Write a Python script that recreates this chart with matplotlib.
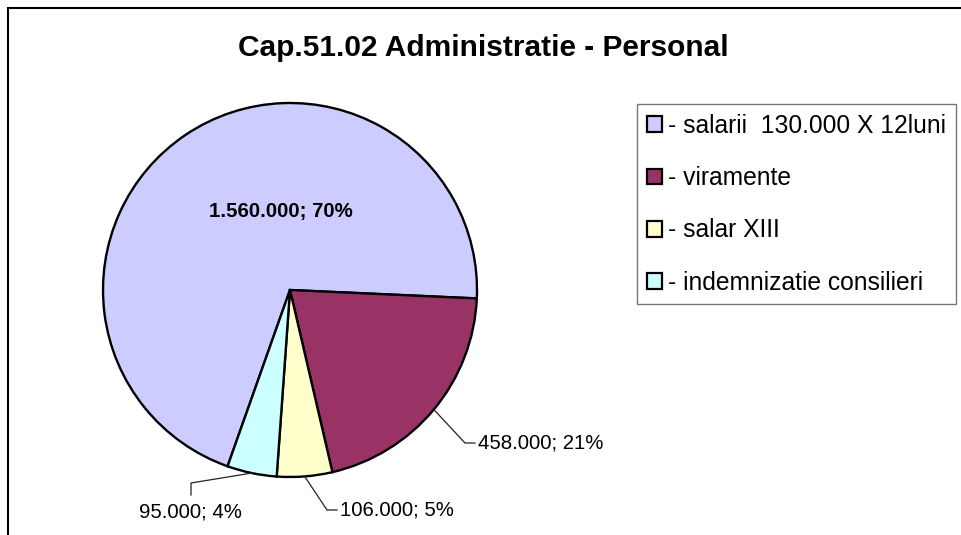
import matplotlib
matplotlib.use("Agg")
import matplotlib.pyplot as plt
from matplotlib.patches import Rectangle, Patch
import numpy as np

plt.rcParams['font.family'] = ['Liberation Sans', 'DejaVu Sans']

title = "Cap.51.02 Administratie - Personal"
categories = ["- salarii  130.000 X 12luni", "- viramente", "- salar XIII", "- indemnizatie consilieri"]
values = [1560000, 458000, 106000, 95000]
colors = ["#CCCCFF", "#993366", "#FFFFCC", "#CCFFFF"]

W, H = 961, 535
fig = plt.figure(figsize=(W / 100, H / 100), dpi=100)
ax = fig.add_axes([0, 0, 1, 1])

cx, cy, R = 290, H - 290, 187
wedges, _ = ax.pie(values, colors=colors, startangle=250.5, counterclock=False,
                   center=(cx, cy), radius=R, frame=True,
                   wedgeprops=dict(edgecolor='black', linewidth=1.7))
ax.set_xlim(0, W)
ax.set_ylim(0, H)
ax.set_aspect('equal')
ax.axis('off')

total = sum(values)

def fmt(v):
    return f"{v:,}".replace(",", ".")

def lab(v):
    return f"{fmt(v)}; {round(100 * v / total)}%"

# first slice: bold label inside
ax.text(281, H - 212, lab(values[0]), ha='center', va='center', fontsize=14.7, fontweight='bold')

# leader label layout (pixel positions)
leader = {
    1: dict(elbow=(465, 443), end=(475, 443), text=(478, 443), ha='left', va='center'),
    2: dict(elbow=(327, 510), end=(337, 510), text=(340, 510), ha='left', va='center'),
    3: dict(elbow=(191, 483), end=(191, 495), text=(190, 512), ha='center', va='center'),
}
for i, w in enumerate(wedges):
    if i == 0:
        continue
    th = np.deg2rad((w.theta1 + w.theta2) / 2)
    p0 = (cx + R * np.cos(th), cy + R * np.sin(th))
    L = leader[i]
    xs = [p0[0], L['elbow'][0], L['end'][0]]
    ys = [p0[1], H - L['elbow'][1], H - L['end'][1]]
    ax.plot(xs, ys, color='#222222', lw=0.9)
    ax.text(L['text'][0], H - L['text'][1], lab(values[i]), ha=L['ha'], va=L['va'], fontsize=14.7)

fig.text(483 / W, 1 - 48 / H, title, ha='center', va='center', fontsize=21.5, fontweight='bold')

# outer chart border
fig.add_artist(Rectangle((8 / W, -0.1), 1.2, 1 - 8 / H + 0.1, transform=fig.transFigure,
                         fill=False, edgecolor='black', lw=1.5))

handles = [Patch(facecolor=c, edgecolor='black', linewidth=1.6) for c in colors]
leg = fig.legend(handles, categories, loc='upper left', bbox_to_anchor=(637 / W, 1 - 104 / H),
                 borderaxespad=0, fontsize=17.7, frameon=True, fancybox=False,
                 edgecolor='#555555', labelspacing=1.15, handlelength=0.6, handleheight=0.6,
                 handletextpad=0.25, borderpad=0.4)
leg.get_frame().set_linewidth(1.0)

fig.savefig("out.png", dpi=100)
